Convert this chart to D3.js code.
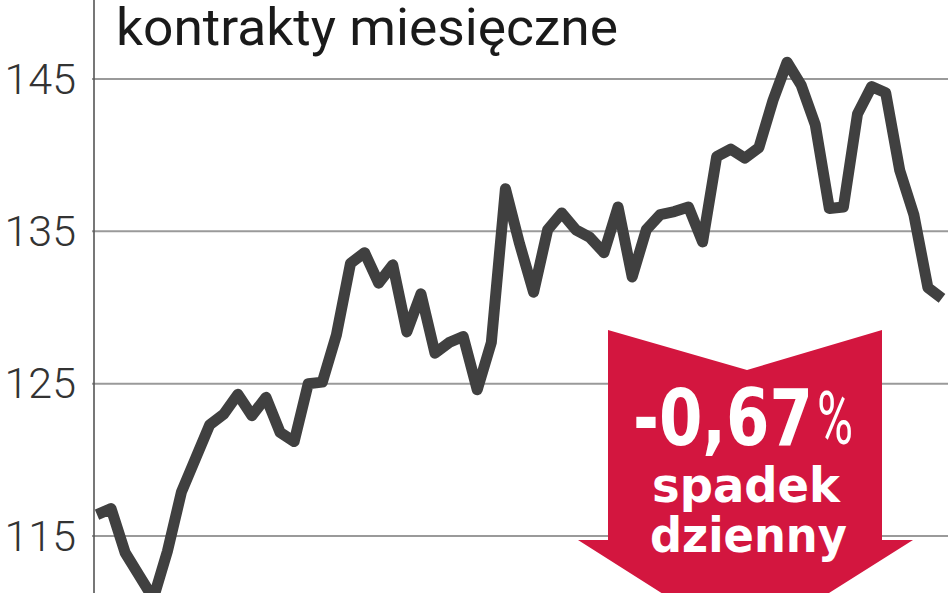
<!DOCTYPE html>
<html>
<head>
<meta charset="utf-8">
<script src="https://cdn.jsdelivr.net/npm/d3@7"></script>
<style>
  html, body { margin: 0; padding: 0; background: #fff; }
  svg { display: block; }
</style>
</head>
<body>
<svg id="chart" width="948" height="593"></svg>
<script>
// tytul i etykiety
const title = "kontrakty miesięczne";
const yTicks = [115, 125, 135, 145];
const changeLabel = "-0,67";
const changeLines = ["spadek", "dzienny"];

// notowania (kolejne sesje)
const sessions = d3.range(0, 61);
const prices = [
  116.4, 116.8, 113.9, 112.4, 110.9, 114.0, 117.9, 120.1, 122.3, 123.0,
  124.3, 122.9, 124.1, 121.8, 121.2, 125.0, 125.1, 128.2, 132.9, 133.6,
  131.6, 132.8, 128.4, 130.9, 127.0, 127.7, 128.1, 124.6, 127.7, 137.8,
  134.2, 131.0, 135.1, 136.2, 135.1, 134.6, 133.6, 136.6, 132.0, 135.1,
  136.1, 136.3, 136.6, 134.3, 139.9, 140.4, 139.8, 140.5, 143.6, 146.1,
  144.6, 142.0, 136.5, 136.6, 142.7, 144.5, 144.1, 139.0, 136.1, 131.3,
  130.6
];

var W = 948, H = 593;
var svg = d3.select("#chart");

// Set the ranges
var x = d3.scaleLinear().domain([0, 60]).range([97, 942]);
var y = d3.scaleLinear().domain([115, 145]).range([536, 79]);

// gridlines
svg.append("g")
  .attr("class", "grid")
  .selectAll("line")
  .data(yTicks)
  .enter().append("line")
    .attr("x1", 92)
    .attr("x2", W)
    .attr("y1", function(d) { return y(d); })
    .attr("y2", function(d) { return y(d); })
    .style("stroke", "#9a9a9a")
    .style("stroke-width", 2);

// Y axis labels
var yAxis = d3.axisLeft(y).tickValues(yTicks).tickSize(0).tickPadding(0);
var ga = svg.append("g")
  .attr("transform", "translate(76,0)")
  .call(yAxis);
ga.select(".domain").remove();
ga.selectAll("text")
  .attr("dy", null)
  .attr("y", 14)
  .style("font-family", "Roboto, 'DejaVu Sans', sans-serif")
  .style("font-weight", 300)
  .style("font-size", "43px")
  .style("fill", "#333");

// axis line
svg.append("line")
  .attr("x1", 94).attr("x2", 94)
  .attr("y1", 0).attr("y2", H)
  .style("stroke", "#555")
  .style("stroke-width", 1.6);

// title
svg.append("text")
  .attr("x", 116)
  .attr("y", 45)
  .attr("textLength", 502)
  .attr("lengthAdjust", "spacingAndGlyphs")
  .style("font-family", "Roboto, 'DejaVu Sans', sans-serif")
  .style("font-size", "52px")
  .style("fill", "#1a1a1a")
  .text(title);

// Define the line
var valueline = d3.line()
  .x(function(d, i) { return x(sessions[i]); })
  .y(function(d) { return y(d); });

svg.append("defs").append("clipPath")
  .attr("id", "plot")
  .append("rect")
    .attr("x", 95).attr("y", 0)
    .attr("width", W - 95).attr("height", H);

svg.append("path")
  .attr("class", "line")
  .attr("clip-path", "url(#plot)")
  .attr("d", valueline(prices))
  .style("fill", "none")
  .style("stroke", "#404040")
  .style("stroke-width", 11)
  .style("stroke-linejoin", "round")
  .style("stroke-linecap", "butt");

// red arrow
var ax = 745, atop = 330;
var arrow = [
  [ax - 137, atop], [ax + 2, atop + 40], [ax + 137, atop],
  [ax + 137, atop + 210], [ax + 168, atop + 210],
  [ax, atop + 316],
  [ax - 167, atop + 210], [ax - 137, atop + 210]
];
svg.append("path")
  .attr("d", d3.line()(arrow) + "Z")
  .style("fill", "#d3163f");

svg.append("text")
  .attr("x", 633)
  .attr("y", 445)
  .attr("textLength", 180)
  .attr("lengthAdjust", "spacingAndGlyphs")
  .style("font-family", "'DejaVu Sans', Roboto, sans-serif")
  .style("font-weight", 700)
  .style("font-size", "78px")
  .style("fill", "#fff")
  .text(changeLabel);

svg.append("text")
  .attr("x", 817)
  .attr("y", 444)
  .attr("textLength", 36)
  .attr("lengthAdjust", "spacingAndGlyphs")
  .style("font-family", "Roboto, 'DejaVu Sans', sans-serif")
  .style("font-weight", 400)
  .style("font-size", "74px")
  .style("fill", "#fff")
  .text("%");

var lblW = [188, 197];
var lblX = [652, 650];
var lblY = [502, 552];
changeLines.forEach(function(t, i) {
  svg.append("text")
    .attr("x", lblX[i])
    .attr("y", lblY[i])
    .attr("textLength", lblW[i])
    .attr("lengthAdjust", "spacingAndGlyphs")
    .style("font-family", "'DejaVu Sans', Roboto, sans-serif")
    .style("font-weight", 700)
    .style("font-size", "48px")
    .style("fill", "#fff")
    .text(t);
});
</script>
</body>
</html>
